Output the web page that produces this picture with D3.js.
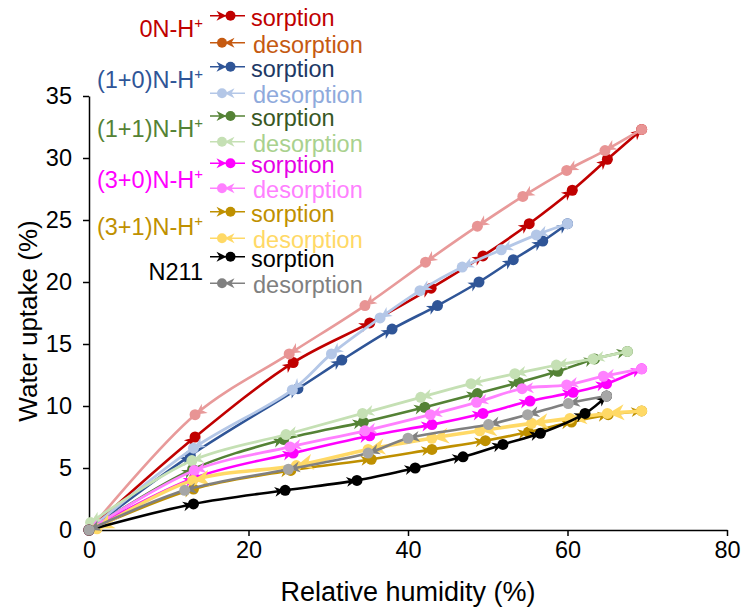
<!DOCTYPE html>
<html>
<head>
<meta charset="utf-8">
<script src="https://cdn.jsdelivr.net/npm/d3@7"></script>
<style>
  body { margin: 0; background: #fff; }
  svg { display: block; }
  text { font-family: "Liberation Sans", Arial, sans-serif; }
</style>
</head>
<body>
<svg id="chart" width="741" height="607"></svg>
<script>
// Axis ticks
const xTicks = [0, 20, 40, 60, 80];
const yTicks = [0, 5, 10, 15, 20, 25, 30, 35];

// Isotherms: [relative humidity %, water uptake %]
const sorp0N = [[0,0],[13.3,7.5],[25.6,13.5],[35.2,16.7],[42.9,19.5],[49.4,22.1],[55.2,24.7],[60.6,27.4],[65.0,29.9],[69.3,32.3]];
const desorp0N = [[69.3,32.3],[64.7,30.6],[59.9,29.0],[54.4,26.9],[48.7,24.5],[42.2,21.6],[34.6,18.1],[25.1,14.2],[13.3,9.3],[0.3,0.2]];
const sorp10 = [[0,0],[12.7,6.0],[26.2,11.4],[31.7,13.7],[38.0,16.2],[43.7,18.1],[48.9,20.0],[53.2,21.8],[56.9,23.3],[60.0,24.7]];
const desorp10 = [[60.0,24.7],[56.1,23.8],[51.7,22.6],[46.8,21.2],[41.5,19.3],[36.5,17.1],[30.4,14.2],[25.5,11.3],[13.1,6.6],[0,0]];
const sorp11 = [[0,0],[13.0,4.9],[24.4,7.3],[34.4,8.7],[42.1,9.9],[48.7,11.0],[53.9,11.9],[58.8,12.8],[63.4,13.8],[67.5,14.4]];
const desorp11 = [[67.5,14.4],[63.2,13.8],[58.6,13.3],[53.4,12.6],[47.9,11.8],[41.6,10.7],[34.3,9.4],[24.7,7.7],[12.9,5.6],[0.2,0.6]];
const sorp30 = [[0,0],[13.2,4.2],[25.6,6.2],[35.2,7.6],[43.0,8.5],[49.4,9.4],[55.3,10.4],[60.7,11.1],[64.9,11.8],[69.3,13.0]];
const desorp30 = [[69.3,13.0],[64.5,12.4],[59.9,11.7],[54.3,11.4],[48.6,10.3],[42.8,9.3],[34.6,8.0],[25.2,6.7],[13.2,4.8],[0,0]];
const sorp31 = [[0,0],[13.1,3.3],[25.3,4.8],[35.4,5.7],[43.0,6.5],[49.7,7.2],[55.1,7.9],[60.5,8.7],[65.1,9.3],[69.3,9.6]];
const desorp31 = [[69.3,9.6],[65.0,9.4],[60.3,9.0],[55.5,8.6],[49.0,8.0],[43.0,7.4],[35.0,6.5],[26.0,5.2],[13.0,4.0],[1.0,0.1]];
const sorpN211 = [[0,0],[13.1,2.1],[24.6,3.2],[33.6,4.0],[40.9,5.0],[46.9,5.9],[51.9,6.9],[56.6,7.8],[62.2,9.4],[64.9,10.8]];
const desorpN211 = [[64.9,10.8],[60.1,10.2],[55.0,9.3],[50.1,8.5],[40.0,7.4],[35.0,6.2],[25.0,4.9],[12.0,3.2],[0,0]];

// Membrane names and legend row captions
const groupNames = ["0N-H", "(1+0)N-H", "(1+1)N-H", "(3+0)N-H", "(3+1)N-H", "N211"];
const rowCaptions = ["sorption", "desorption"];

// Styling per membrane: [sorption, desorption]
const groupStyles = [
  { label: "#C00000", rows: [
    { data: sorp0N, line: "#C00000", dot: "#C00000", key: "#C00000", text: "#C00000", w: 2.6, arrow: 10 },
    { data: desorp0N, line: "#E89A9A", dot: "#E89494", key: "#C55A11", text: "#C55A11", w: 2.6, arrow: 11 } ] },
  { label: "#2F5597", rows: [
    { data: sorp10, line: "#2F5597", dot: "#2F5597", key: "#2F5597", text: "#203864", w: 2.6, arrow: 10 },
    { data: desorp10, line: "#B4C7E7", dot: "#B4C7E7", key: "#B4C7E7", text: "#8FAADC", w: 2.8, arrow: 11 } ] },
  { label: "#548235", rows: [
    { data: sorp11, line: "#548235", dot: "#548235", key: "#548235", text: "#385723", w: 2.6, arrow: 10 },
    { data: desorp11, line: "#C5E0B4", dot: "#C5E0B4", key: "#C5E0B4", text: "#A9D18E", w: 2.8, arrow: 11 } ] },
  { label: "#FF00FF", rows: [
    { data: sorp30, line: "#FF00FF", dot: "#FF00FF", key: "#FF00FF", text: "#E600E6", w: 2.6, arrow: 10 },
    { data: desorp30, line: "#FF80FF", dot: "#FF80FF", key: "#FF80FF", text: "#FF80FF", w: 2.8, arrow: 11 } ] },
  { label: "#BF9000", rows: [
    { data: sorp31, line: "#BF9000", dot: "#BF9000", key: "#BF9000", text: "#BF9000", w: 2.6, arrow: 10 },
    { data: desorp31, line: "#FFD966", dot: "#FFD966", key: "#FFD966", text: "#FFD966", w: 3.6, arrow: 16 } ] },
  { label: "#000000", rows: [
    { data: sorpN211, line: "#000000", dot: "#000000", key: "#000000", text: "#000000", w: 2.6, arrow: 10 },
    { data: desorpN211, line: "#808080", dot: "#A6A6A6", key: "#808080", text: "#808080", w: 2.6, arrow: 11 } ] }
];

const svg = d3.select("#chart");
const margin = { left: 89, right: 14, top: 96, bottom: 77 };
const W = 741, H = 607;

const x = d3.scaleLinear().domain([0, 80]).range([margin.left, W - margin.right]);
const y = d3.scaleLinear().domain([0, 35]).range([H - margin.bottom, margin.top]);

// Axes
const xAxis = svg.append("g")
  .attr("transform", `translate(0,${y(0)})`)
  .call(d3.axisBottom(x).tickValues(xTicks).tickSize(6).tickPadding(5).tickSizeOuter(0));
const yAxis = svg.append("g")
  .attr("transform", `translate(${x(0)},0)`)
  .call(d3.axisLeft(y).tickValues(yTicks).tickSize(6).tickPadding(11).tickSizeOuter(0));

[xAxis, yAxis].forEach(g => {
  g.select(".domain").attr("stroke", "#000").attr("stroke-width", 1.5);
  g.selectAll(".tick line").attr("stroke", "#000").attr("stroke-width", 1.5);
  g.selectAll(".tick text").attr("font-size", 23.5).attr("fill", "#000")
    .attr("font-family", '"Liberation Sans", Arial, sans-serif');
});
xAxis.selectAll(".tick text").attr("dy", "0.71em");

svg.append("text")
  .attr("x", (x(0) + x(80)) / 2).attr("y", 601)
  .attr("text-anchor", "middle").attr("font-size", 27)
  .text("Relative humidity (%)");
svg.append("text")
  .attr("transform", `translate(37,${(y(0) + y(35)) / 2 + 8}) rotate(-90)`)
  .attr("text-anchor", "middle").attr("font-size", 26)
  .text("Water uptake (%)");

// Arrowhead shape centred on the origin, pointing along +x
function arrowPath(s) {
  const h = s * 0.5;
  return `M${s * 0.55},0L${-s * 0.45},${-h}L${-s * 0.15},0L${-s * 0.45},${h}Z`;
}

const line = d3.line()
  .x(d => x(d[0])).y(d => y(d[1]))
  .curve(d3.curveCatmullRom.alpha(0.5));

const plot = svg.append("g");

groupStyles.forEach(g => {
  g.rows.forEach(r => {
    const sg = plot.append("g");
    sg.append("path")
      .attr("d", line(r.data))
      .attr("fill", "none")
      .attr("stroke", r.line)
      .attr("stroke-width", r.w)
      .attr("stroke-linejoin", "round");

    // arrowheads on the way into every point after the first
    r.data.forEach((d, i) => {
      if (i === 0) return;
      const p0 = r.data[i - 1];
      const px = x(d[0]), py = y(d[1]);
      const dx = px - x(p0[0]), dy = py - y(p0[1]);
      const len = Math.hypot(dx, dy) || 1;
      const ux = dx / len, uy = dy / len;
      const back = r.arrow * 0.6;
      const ang = Math.atan2(uy, ux) * 180 / Math.PI;
      sg.append("path")
        .attr("d", arrowPath(r.arrow))
        .attr("transform", `translate(${px - ux * back},${py - uy * back}) rotate(${ang})`)
        .attr("fill", r.line);
    });

    sg.selectAll("circle")
      .data(r.data)
      .join("circle")
      .attr("cx", d => x(d[0])).attr("cy", d => y(d[1]))
      .attr("r", 5.5)
      .attr("fill", r.dot);
  });
});

// Legend
const legend = svg.append("g");
const rowY = [15.7, 42.7, 66.7, 93.3, 116, 141.7, 163.3, 188.3, 211.7, 238.3, 256.7, 283.3];
const groupBaseline = [37, 88, 137, 188, 235, 280];

groupStyles.forEach((g, gi) => {
  const name = legend.append("text")
    .attr("x", 203).attr("y", groupBaseline[gi])
    .attr("text-anchor", "end").attr("font-size", 23.5)
    .attr("fill", g.label)
    .text(groupNames[gi]);
  if (gi < 5) {
    name.append("tspan").attr("font-size", 15).attr("dy", -9).text("+");
  }
  g.rows.forEach((r, ri) => {
    const yy = rowY[gi * 2 + ri];
    const item = legend.append("g").attr("transform", `translate(0,${yy})`);
    item.append("line")
      .attr("x1", 210).attr("x2", 245).attr("y1", 0).attr("y2", 0)
      .attr("stroke", r.key).attr("stroke-width", 1.5);
    if (ri === 0) {
      item.append("path").attr("d", arrowPath(10))
        .attr("transform", "translate(221,0)").attr("fill", r.key);
      item.append("circle").attr("cx", 230.5).attr("cy", 0).attr("r", 5).attr("fill", r.key);
    } else {
      item.append("circle").attr("cx", 222).attr("cy", 0).attr("r", 5).attr("fill", r.key);
      item.append("path").attr("d", arrowPath(10))
        .attr("transform", "translate(230,0) rotate(180)").attr("fill", r.key);
    }
    item.append("text")
      .attr("x", ri === 0 ? 251 : 253).attr("y", 10)
      .attr("font-size", 23.5).attr("fill", r.text)
      .text(rowCaptions[ri]);
  });
});
</script>
</body>
</html>
